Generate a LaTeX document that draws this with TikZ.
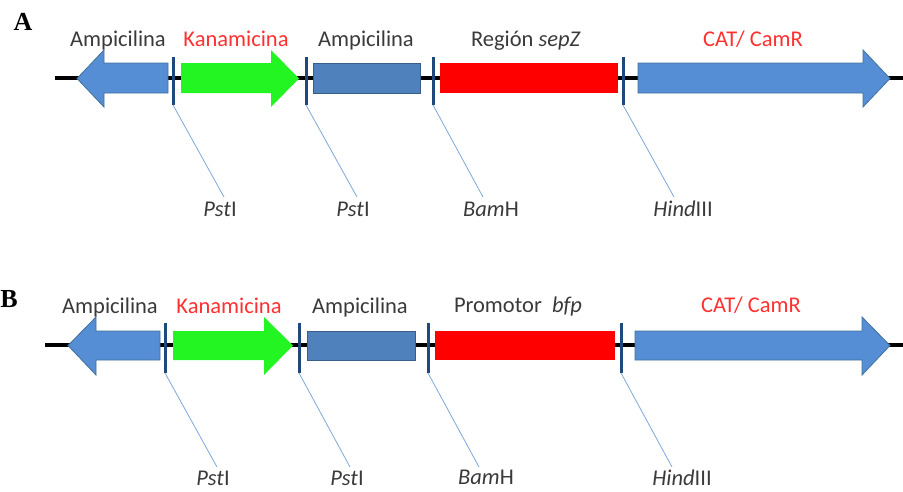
\documentclass[tikz,border=0pt]{standalone}
\usepackage{fontspec}
\setmainfont{Carlito}
\newfontfamily\letterfont{Liberation Serif}
\definecolor{lightgene}{HTML}{558ED5}
\definecolor{lightedge}{HTML}{41719C}
\definecolor{darkgene}{HTML}{4F81BD}
\definecolor{darkedge}{HTML}{385D8A}
\definecolor{kangreen}{HTML}{22F522}
\definecolor{cutblue}{HTML}{1F497D}
\definecolor{ptrblue}{HTML}{7DA7D9}
\definecolor{txtdark}{HTML}{3A3A3A}
\definecolor{txtred}{HTML}{FF3030}
\begin{document}
\begin{tikzpicture}[x=1pt,y=-1pt,
  backbone/.style={line width=4pt, draw=black},
  cutsite/.style={line width=3pt, draw=cutblue},
  pointer/.style={line width=0.8pt, draw=ptrblue},
  lightarrow/.style={fill=lightgene, draw=lightedge, line width=0.8pt},
  darkbox/.style={fill=darkgene, draw=darkedge, line width=0.8pt},
  greenarrow/.style={fill=kangreen},
  redbox/.style={fill=red},
  lab/.style={anchor=base, inner sep=0pt, font=\fontsize{22.5}{26}\selectfont, text=txtdark},
  redlab/.style={lab, text=txtred},
  panel/.style={anchor=base, inner sep=0pt, font=\letterfont\bfseries\fontsize{26}{30}\selectfont}]
\useasboundingbox (0,0) rectangle (903,491);

% ---------------- Panel A ----------------
\node[panel] (labA) at (23,30) {A};
\coordinate (bA0) at (55,78);
\coordinate (bA1) at (903,78);
\draw[backbone] (bA0) -- (bA1);
% genes
\draw[lightarrow] (168,63) -- (104,63) -- (104,50) -- (77,78.5) -- (104,107) -- (104,93) -- (168,93) -- cycle;
\fill[greenarrow] (181,63) -- (271,63) -- (271,50) -- (299,78.5) -- (271,107) -- (271,93) -- (181,93) -- cycle;
\draw[darkbox] (313,63) rectangle (420,93);
\fill[redbox] (440,63) rectangle (618,93);
\draw[lightarrow] (638,63) -- (863,63) -- (863,50) -- (890,78.5) -- (863,107) -- (863,93) -- (638,93) -- cycle;
% cut sites
\foreach \i/\x in {1/173,2/306,3/433,4/623}{
  \coordinate (tA\i) at (\x,57);
  \coordinate (cA\i) at (\x,105);
  \draw[cutsite] (tA\i) -- (cA\i);
}
% top labels
\node[lab] (gA1) at (118,46) {Ampicilina};
\node[redlab] (gA2) at (236,46) {Kanamicina};
\node[lab] (gA3) at (366,46) {Ampicilina};
\node[lab] (gA4) at (526,46) {Región \textit{sepZ}};
\node[redlab] (gA5) at (753,46) {CAT/ CamR};
% enzyme labels
\node[lab] (eA1) at (220,216) {\textit{Pst}I};
\node[lab] (eA2) at (353,216) {\textit{Pst}I};
\node[lab] (eA3) at (491,216) {\textit{Bam}H};
\node[lab] (eA4) at (683,216) {\textit{Hind}III};
\coordinate (pA1) at (224,197);
\coordinate (pA2) at (357,197);
\coordinate (pA3) at (483,197);
\coordinate (pA4) at (674,197);
\foreach \i in {1,2,3,4}{\draw[pointer] (cA\i) -- (pA\i);}

% ---------------- Panel B ----------------
\node[panel] (labB) at (9,307) {B};
\coordinate (bB0) at (45,345);
\coordinate (bB1) at (903,345);
\draw[backbone] (bB0) -- (bB1);
% genes
\draw[lightarrow] (160,331) -- (96,331) -- (96,317) -- (68,345.5) -- (96,375) -- (96,360) -- (160,360) -- cycle;
\fill[greenarrow] (173,331) -- (264,331) -- (264,317) -- (293,345.5) -- (264,375) -- (264,360) -- (173,360) -- cycle;
\draw[darkbox] (307,331) rectangle (415,360);
\fill[redbox] (435,331) rectangle (615,360);
\draw[lightarrow] (635,331) -- (862,331) -- (862,317) -- (890,345.5) -- (862,375) -- (862,360) -- (635,360) -- cycle;
% cut sites
\foreach \i/\x in {1/165,2/299,3/428,4/621}{
  \coordinate (tB\i) at (\x,323);
  \coordinate (cB\i) at (\x,373);
  \draw[cutsite] (tB\i) -- (cB\i);
}
% top labels
\node[lab] (gB1) at (110,313) {Ampicilina};
\node[redlab] (gB2) at (229,313) {Kanamicina};
\node[lab] (gB3) at (360,313) {Ampicilina};
\node[lab] (gB4) at (518,312) {Promotor\ \ \textit{bfp}};
\node[redlab] (gB5) at (751,312) {CAT/ CamR};
% enzyme labels
\node[lab] (eB1) at (213,485) {\textit{Pst}I};
\node[lab] (eB2) at (347,485) {\textit{Pst}I};
\node[lab] (eB3) at (486,484) {\textit{Bam}H};
\node[lab] (eB4) at (682,485) {\textit{Hind}III};
\coordinate (pB1) at (217,467);
\coordinate (pB2) at (350,467);
\coordinate (pB3) at (479,467);
\coordinate (pB4) at (672,467);
\foreach \i in {1,2,3,4}{\draw[pointer] (cB\i) -- (pB\i);}
\end{tikzpicture}
\end{document}
